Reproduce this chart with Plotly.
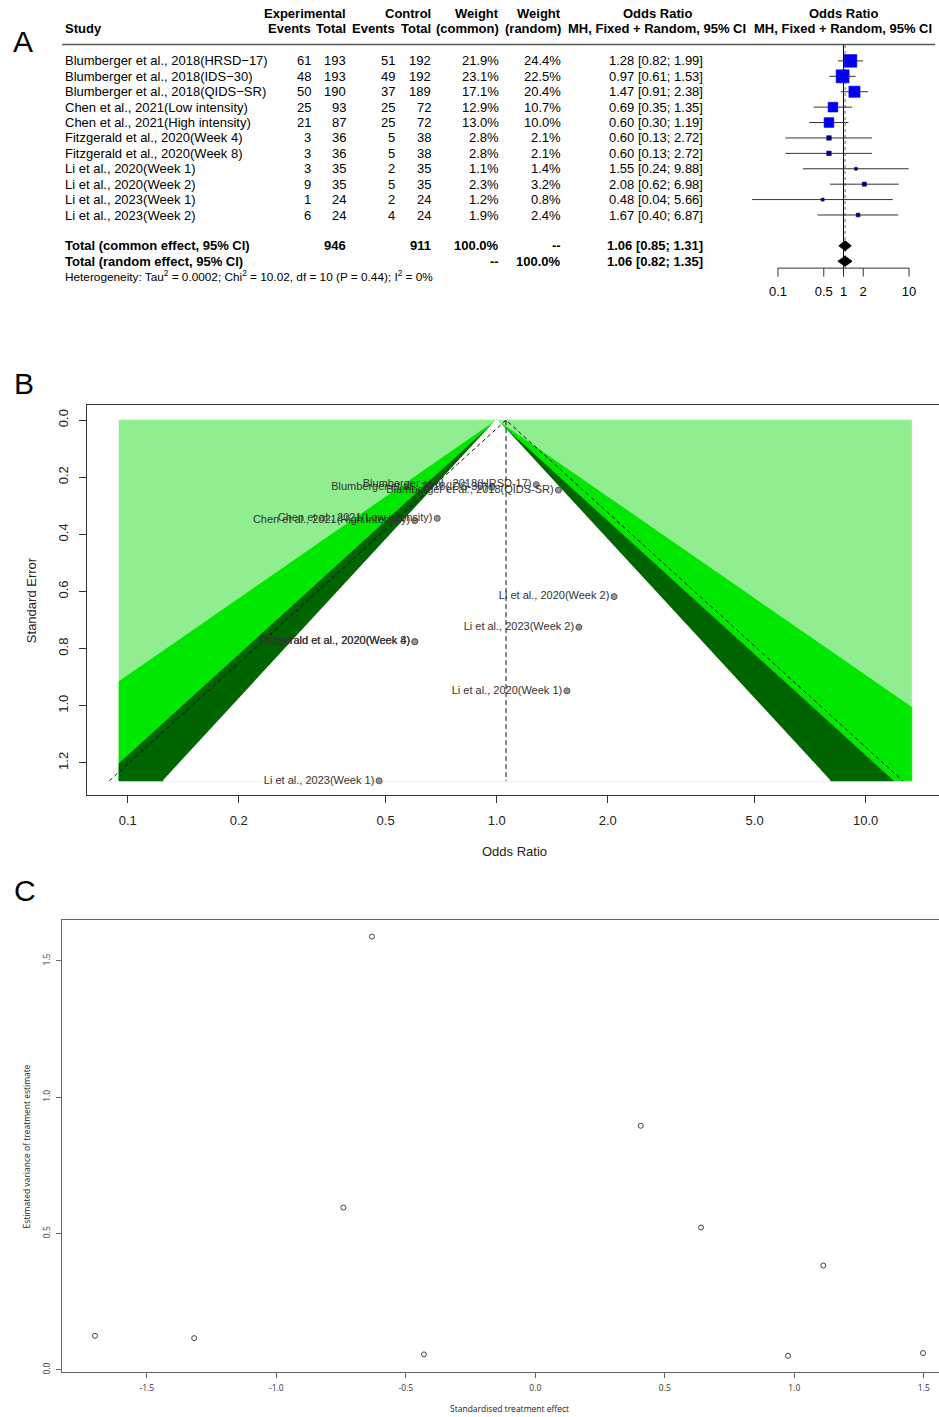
import numpy as np
import plotly.graph_objects as go

W, H = 939, 1417

# ---------------- data: forest table (panel A) ----------------
studies = ["Blumberger et al., 2018(HRSD-17)", "Blumberger et al., 2018(IDS-30)",
           "Blumberger et al., 2018(QIDS-SR)", "Chen et al., 2021(Low intensity)",
           "Chen et al., 2021(High intensity)", "Fitzgerald et al., 2020(Week 4)",
           "Fitzgerald et al., 2020(Week 8)", "Li et al., 2020(Week 1)",
           "Li et al., 2020(Week 2)", "Li et al., 2023(Week 1)", "Li et al., 2023(Week 2)"]
exp_events = [61, 48, 50, 25, 21, 3, 3, 3, 9, 1, 6]
exp_total = [193, 193, 190, 93, 87, 36, 36, 35, 35, 24, 24]
ctrl_events = [51, 49, 37, 25, 25, 5, 5, 2, 5, 2, 4]
ctrl_total = [192, 192, 189, 72, 72, 38, 38, 35, 35, 24, 24]
weight_common = [21.9, 23.1, 17.1, 12.9, 13.0, 2.8, 2.8, 1.1, 2.3, 1.2, 1.9]
weight_random = [24.4, 22.5, 20.4, 10.7, 10.0, 2.1, 2.1, 1.4, 3.2, 0.8, 2.4]
odds_ratio = [1.28, 0.97, 1.47, 0.69, 0.60, 0.60, 0.60, 1.55, 2.08, 0.48, 1.67]
ci_lower = [0.82, 0.61, 0.91, 0.35, 0.30, 0.13, 0.13, 0.24, 0.62, 0.04, 0.40]
ci_upper = [1.99, 1.53, 2.38, 1.35, 1.19, 2.72, 2.72, 9.88, 6.98, 5.66, 6.87]

pooled_labels = ["Total (common effect, 95% CI)", "Total (random effect, 95% CI)"]
pooled_or = [1.06, 1.06]
pooled_lower = [0.85, 0.82]
pooled_upper = [1.31, 1.35]
pooled_exp_total = ["946", ""]
pooled_ctrl_total = ["911", ""]
pooled_w_common = ["100.0%", "--"]
pooled_w_random = ["--", "100.0%"]
heterogeneity = ("Heterogeneity: Tau<sup>2</sup> = 0.0002; Chi<sup>2</sup> = 10.02, "
                 "df = 10 (P = 0.44); I<sup>2</sup> = 0%")
forest_ticks = [0.1, 0.5, 1, 2, 10]
forest_tick_labels = ["0.1", "0.5", "1", "2", "10"]

# ---------------- data: funnel plot (panel B) ----------------
funnel_se = [0.226, 0.235, 0.245, 0.344, 0.352, 0.776, 0.776, 0.948, 0.618, 1.263, 0.725]
funnel_ticks = [0.1, 0.2, 0.5, 1, 2, 5, 10]
funnel_tick_labels = ["0.1", "0.2", "0.5", "1.0", "2.0", "5.0", "10.0"]
se_ticks = [0, 0.2, 0.4, 0.6, 0.8, 1.0, 1.2]
se_tick_labels = ["0.0", "0.2", "0.4", "0.6", "0.8", "1.0", "1.2"]
contour_z = [2.576, 1.960, 1.645]            # 99%, 95%, 90%
contour_colors = ["#00E800", "#006400", "#FFFFFF"]
outer_color = "#90EE90"
funnel_xlim = [0.0947, 13.33]
funnel_center = 1.06

# ---------------- data: panel C ----------------
std_effect = [-1.700, -1.317, -0.741, -0.631, -0.430, 0.407, 0.640, 1.112, 0.976, 1.497]
est_variance = [0.1245, 0.116, 0.595, 1.589, 0.0564, 0.895, 0.5215, 0.3824, 0.0513, 0.0612]
c_xticks = [-1.5, -1.0, -0.5, 0.0, 0.5, 1.0, 1.5]
c_xtick_labels = ["-1.5", "-1.0", "-0.5", "0.0", "0.5", "1.0", "1.5"]
c_yticks = [0.0, 0.5, 1.0, 1.5]
c_ytick_labels = ["0.0", "0.5", "1.0", "1.5"]

FONT = "Liberation Sans, Arial, sans-serif"
FONT_C = "Open Sans, Noto Sans, sans-serif"


def px(p):
    return p / W


def py(p):
    return 1 - p / H


fig = go.Figure()
ann = []
shapes = []


def text(x, y, s, anchor="right", yref="y", size=13, bold=False, color="black",
         family=FONT, angle=0, xref="paper"):
    ann.append(dict(x=x, y=y, xref=xref, yref=yref,
                    text=f"<b>{s}</b>" if bold else s, showarrow=False,
                    xanchor=anchor, yanchor="middle", textangle=angle,
                    font=dict(family=family, size=size, color=color)))


def line_trace(x, y, xa, ya, color="black", width=1, dash="solid", fill=None, fillcolor=None):
    fig.add_trace(go.Scatter(x=x, y=y, mode="lines", xaxis=xa, yaxis=ya,
                             line=dict(color=color, width=width, dash=dash),
                             fill=fill, fillcolor=fillcolor, hoverinfo="skip",
                             showlegend=False, opacity=1))


# =============== Panel A ===============
ROW0, ROWH = 61.0, 15.43


def row_of(p):
    return (p - ROW0) / ROWH


OR1_PX, OR_DEC = 843.5, 65.5


def lor(p):
    return (p - OR1_PX) / OR_DEC


n = len(studies)
rows = list(range(n))
pooled_rows = [n + 1, n + 2]
het_row = n + 3

hy1, hy2 = row_of(14), row_of(29)
text(px(63), hy2, "Study", "left", bold=True)
text(px(348), hy1, "Experimental", bold=True)
text(px(313), hy2, "Events", bold=True)
text(px(348), hy2, "Total", bold=True)
text(px(433), hy1, "Control", bold=True)
text(px(397), hy2, "Events", bold=True)
text(px(433), hy2, "Total", bold=True)
text(px(501.5), hy1, "Weight", bold=True)
text(px(501.5), hy2, "(common)", bold=True)
text(px(563), hy1, "Weight", bold=True)
text(px(563), hy2, "(random)", bold=True)
text(px(657), hy1, "Odds Ratio", "center", bold=True)
text(px(657), hy2, "MH, Fixed + Random, 95% CI", "center", bold=True)
text(px(843), hy1, "Odds Ratio", "center", bold=True)
text(px(843), hy2, "MH, Fixed + Random, 95% CI", "center", bold=True)

for i in rows:
    text(px(63), i, studies[i].replace("-", "\u2212"), "left")
    text(px(313), i, str(exp_events[i]))
    text(px(348), i, str(exp_total[i]))
    text(px(397), i, str(ctrl_events[i]))
    text(px(433), i, str(ctrl_total[i]))
    text(px(501.5), i, f"{weight_common[i]:.1f}%")
    text(px(563), i, f"{weight_random[i]:.1f}%")
    text(px(704.5), i, f"{odds_ratio[i]:.2f} [{ci_lower[i]:.2f}; {ci_upper[i]:.2f}]")

for k, r in enumerate(pooled_rows):
    text(px(63), r, pooled_labels[k], "left", bold=True)
    if pooled_exp_total[k]:
        text(px(348), r, pooled_exp_total[k], bold=True)
    if pooled_ctrl_total[k]:
        text(px(433), r, pooled_ctrl_total[k], bold=True)
    text(px(501.5), r, pooled_w_common[k], bold=True)
    text(px(563), r, pooled_w_random[k], bold=True)
    text(px(704.5), r, f"{pooled_or[k]:.2f} [{pooled_lower[k]:.2f}; {pooled_upper[k]:.2f}]", bold=True)

text(px(63), het_row, heterogeneity, "left", size=11.8)

shapes.append(dict(type="line", xref="paper", yref="y", x0=px(62), x1=px(935),
                   y0=row_of(44.5), y1=row_of(44.5), line=dict(color="#555", width=1.5)))

axis_row = row_of(268.5)
tick_row = row_of(277)
lab_row = row_of(293)

# reference line at 1 and dotted line at pooled estimate
line_trace([1, 1], [row_of(45), axis_row], "x", "y", color="black", width=1)
line_trace([pooled_or[0], pooled_or[0]], [row_of(45), axis_row], "x", "y",
           color="#888", width=1.2, dash="dot")

# CI lines
xs, ys = [], []
for lo, hi, r in zip(ci_lower, ci_upper, rows):
    xs += [lo, hi, None]
    ys += [r, r, None]
line_trace(xs, ys, "x", "y", color="#333", width=1)

# squares
sq_size = [2.7 * np.sqrt(w) for w in weight_common]
sq_color = ["#0000F0" if w > 5 else "#000080" for w in weight_common]
fig.add_trace(go.Scatter(x=odds_ratio, y=rows, mode="markers", xaxis="x", yaxis="y",
                         marker=dict(symbol="square", size=sq_size, color=sq_color,
                                     opacity=1, line=dict(width=0.6, color=sq_color)),
                         opacity=1, hoverinfo="skip", showlegend=False, cliponaxis=False))

# diamonds
dh = 5.0 / ROWH
for k, r in enumerate(pooled_rows):
    line_trace([pooled_lower[k], pooled_or[k], pooled_upper[k], pooled_or[k], pooled_lower[k]],
               [r, r - dh, r, r + dh, r], "x", "y", color="black", width=1,
               fill="toself", fillcolor="black")

# axis
line_trace([forest_ticks[0], forest_ticks[-1]], [axis_row, axis_row], "x", "y", color="#333", width=1)
tx, ty = [], []
for t in forest_ticks:
    tx += [t, t, None]
    ty += [axis_row, tick_row, None]
line_trace(tx, ty, "x", "y", color="#333", width=1)
fig.add_trace(go.Scatter(x=forest_ticks, y=[lab_row] * len(forest_ticks), mode="text",
                         text=forest_tick_labels, xaxis="x", yaxis="y",
                         textfont=dict(family=FONT, size=13, color="black"),
                         hoverinfo="skip", showlegend=False, cliponaxis=False))

# =============== Panel B ===============
SE_PX0, SE_PER = 420.7, 286.0
F_PX01, F_DEC = 127.7, 369.0


def flog(p):
    return -1 + (p - F_PX01) / F_DEC


def fse(p):
    return (p - SE_PX0) / SE_PER


se_max = max(funnel_se)
lx0, lx1 = np.log(funnel_xlim[0]), np.log(funnel_xlim[1])

line_trace([funnel_xlim[0], funnel_xlim[1], funnel_xlim[1], funnel_xlim[0], funnel_xlim[0]],
           [0, 0, se_max, se_max, 0], "x2", "y2", color=outer_color, width=0.5,
           fill="toself", fillcolor=outer_color)


def contour_poly(z):
    pts = [(0.0, 0.0)]
    if z * se_max <= lx1:
        pts.append((z * se_max, se_max))
    else:
        pts += [(lx1, lx1 / z), (lx1, se_max)]
    if z * se_max <= -lx0:
        pts.append((-z * se_max, se_max))
    else:
        pts += [(lx0, se_max), (lx0, -lx0 / z)]
    pts.append((0.0, 0.0))
    return [float(np.exp(a)) for a, _ in pts], [b for _, b in pts]


for z, col in zip(contour_z, contour_colors):
    cxs, cys = contour_poly(z)
    line_trace(cxs, cys, "x2", "y2", color=col, width=(2 if col == "#FFFFFF" else 0.6),
               fill="toself", fillcolor=col)

lc = np.log(funnel_center)
line_trace([float(np.exp(lc - 1.96 * se_max)), funnel_center, float(np.exp(lc + 1.96 * se_max))],
           [se_max, 0, se_max], "x2", "y2", color="#111", width=1, dash="4px,3px")
line_trace([funnel_center, funnel_center], [0, se_max], "x2", "y2",
           color="#111", width=1, dash="5px,3px")

fig.add_trace(go.Scatter(x=odds_ratio, y=funnel_se, mode="markers+text", text=studies,
                         textposition="middle left", xaxis="x2", yaxis="y2",
                         textfont=dict(family=FONT, size=11, color="#333"),
                         marker=dict(size=6, color="#999", line=dict(color="#555", width=1)),
                         hoverinfo="skip", showlegend=False, cliponaxis=False))

text(px(514), py(853), "Odds Ratio", "center", yref="paper", size=13, color="#222")
text(px(31), py(601), "Standard Error", "center", yref="paper", size=13, color="#222", angle=-90)

# =============== Panel C ===============
C_X0, C_XPER = 535.3, 259.0
C_Y0, C_YPER = 1371.7, 273.0


def cx(p):
    return (p - C_X0) / C_XPER


def cy(p):
    return (C_Y0 - p) / C_YPER


fig.add_trace(go.Scatter(x=std_effect, y=est_variance, mode="markers", xaxis="x3", yaxis="y3",
                         marker=dict(symbol="circle-open", size=5, color="#444",
                                     line=dict(width=1, color="#444")),
                         hoverinfo="skip", showlegend=False))

text(px(509), py(1410), "Standardised treatment effect", "center", yref="paper",
     size=8.5, color="#222", family=FONT_C)
text(px(26), py(1148), "Estimated variance of treatment estimate", "center", yref="paper",
     size=8.5, color="#222", family=FONT_C, angle=-90)

# panel letters
text(px(23), py(42), "A", "center", yref="paper", size=30, family=FONT)
text(px(24), py(384), "B", "center", yref="paper", size=30, family=FONT)
text(px(25), py(892), "C", "center", yref="paper", size=30, family=FONT)

axis_common = dict(showgrid=False, zeroline=False)

fig.update_layout(
    width=W, height=H, margin=dict(l=0, r=0, t=0, b=0),
    paper_bgcolor="white", plot_bgcolor="white", showlegend=False,
    xaxis=dict(domain=[px(745), px(935)], type="log", range=[lor(745), lor(935)],
               visible=False, anchor="y"),
    yaxis=dict(domain=[py(300), 1], range=[row_of(300), row_of(0)], visible=False, anchor="x"),
    xaxis2=dict(domain=[px(86.7), 1], type="log", range=[flog(86.7), flog(939)], anchor="y2",
                tickvals=funnel_ticks, ticktext=funnel_tick_labels, ticks="outside", ticklen=7,
                tickcolor="#333", showline=True, linecolor="#333", linewidth=1, mirror=True,
                tickfont=dict(family=FONT, size=13, color="#222"), ticklabelstandoff=7,
                **axis_common),
    yaxis2=dict(domain=[py(796), py(406)], range=[fse(796), fse(406)], anchor="x2",
                tickvals=se_ticks, ticktext=se_tick_labels, tickangle=-90, ticks="outside",
                ticklen=7, tickcolor="#333", showline=True, linecolor="#333", linewidth=1,
                tickfont=dict(family=FONT, size=13, color="#222"), ticklabelstandoff=6,
                **axis_common),
    xaxis3=dict(domain=[px(61.7), 1], range=[cx(61.7), cx(939)], anchor="y3",
                tickvals=c_xticks, ticktext=c_xtick_labels, ticks="outside", ticklen=5,
                tickcolor="#666", showline=True, linecolor="#666", linewidth=1, mirror=True,
                tickfont=dict(family=FONT_C, size=8.5, color="#333"), ticklabelstandoff=3,
                **axis_common),
    yaxis3=dict(domain=[py(1374), py(921)], range=[cy(1374), cy(921)], anchor="x3",
                tickvals=c_yticks, ticktext=c_ytick_labels, tickangle=-90, ticks="outside",
                ticklen=5, tickcolor="#666", showline=True, linecolor="#666", linewidth=1,
                tickfont=dict(family=FONT_C, size=8.5, color="#333"), ticklabelstandoff=2,
                **axis_common),
    annotations=ann, shapes=shapes,
)

fig.write_html("out.html")
